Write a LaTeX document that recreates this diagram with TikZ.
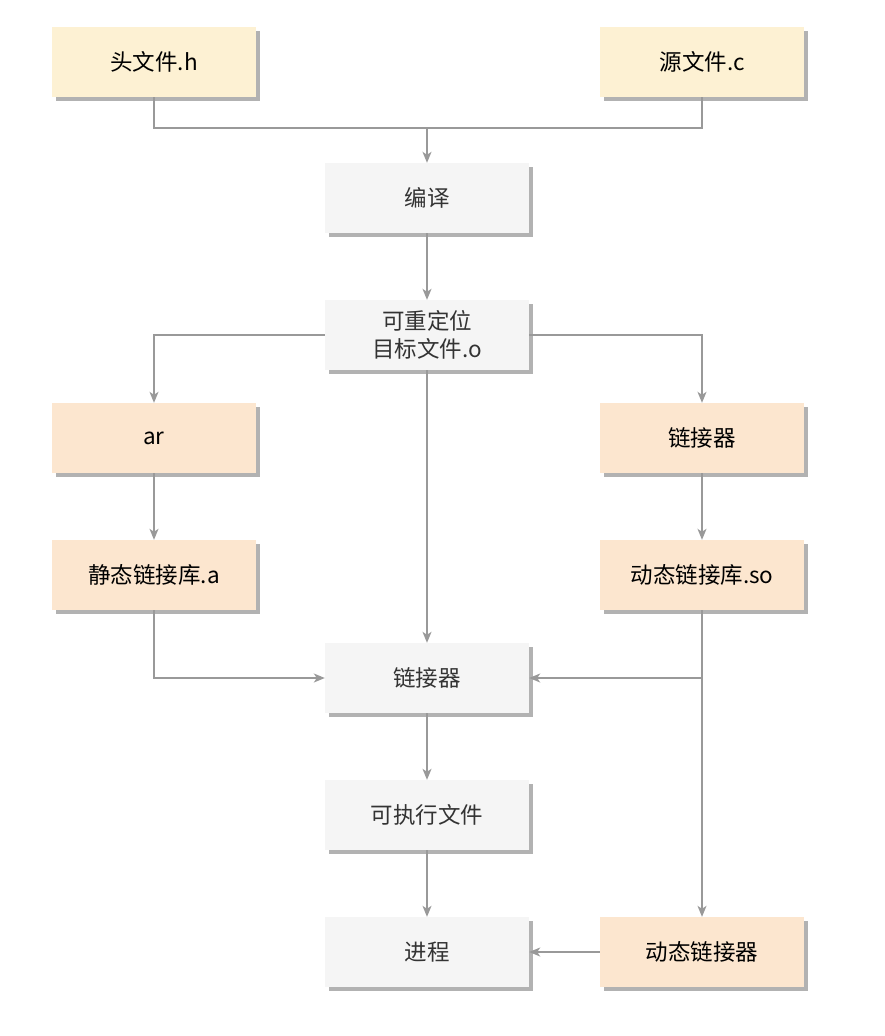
\documentclass[tikz,border=0pt]{standalone}
\usepackage{fontspec}
\setmainfont{Noto Sans CJK SC}
\usetikzlibrary{shadows,arrows.meta}
\definecolor{ylw}{HTML}{FDF1D3}
\definecolor{org}{HTML}{FCE6CF}
\definecolor{gry}{HTML}{F5F5F5}
\definecolor{ln}{HTML}{999999}
\definecolor{gtxt}{HTML}{333333}
\tikzset{
  x=1pt,y=-1pt,
  box/.style={minimum width=204pt,minimum height=70pt,inner sep=0pt,font=\fontsize{22.5pt}{28pt}\selectfont,align=center,
    drop shadow={shadow xshift=4pt,shadow yshift=-4pt,fill=black!30,opacity=1}},
  ybox/.style={box,fill=ylw,text=black},
  obox/.style={box,fill=org,text=black},
  gbox/.style={box,fill=gry,text=gtxt},
  conn/.style={draw=ln,line width=1.3pt},
  arr/.style={conn,-{Stealth[length=11pt,width=9pt,inset=3pt]}}
}
\begin{document}
\begin{tikzpicture}
\useasboundingbox[fill=white] (0,0) rectangle (884,1036);
\node[ybox] (h) at (154,62) {头文件.h};
\node[ybox] (c) at (702,62) {源文件.c};
\node[gbox] (comp) at (427,198) {编译};
\node[gbox] (obj) at (427,335) {可重定位\\目标文件.o};
\node[obox] (ar) at (154,438) {ar};
\node[obox] (lnkr) at (702,438) {链接器};
\node[obox] (sta) at (154,575) {静态链接库.a};
\node[obox] (dyn) at (702,575) {动态链接库.so};
\node[gbox] (lnk) at (427,678) {链接器};
\node[gbox] (exe) at (427,815) {可执行文件};
\node[gbox] (proc) at (427,952) {进程};
\node[obox] (dl) at (702,952) {动态链接器};
\coordinate (j1) at (427,128);
\coordinate (j2) at (702,678);
\draw[conn] (h.south) |- (j1) -| (c.south);
\draw[arr] (j1) -- (comp.north);
\draw[arr] (comp) -- (obj);
\draw[arr] (obj.west) -| (ar.north);
\draw[arr] (obj.east) -| (lnkr.north);
\draw[arr] (obj) -- (lnk);
\draw[arr] (ar) -- (sta);
\draw[arr] (lnkr) -- (dyn);
\draw[arr] (sta.south) |- (lnk.west);
\draw[arr] (dyn.south) -- (dl.north);
\draw[arr] (j2) -- (lnk.east);
\draw[arr] (lnk) -- (exe);
\draw[arr] (exe) -- (proc);
\draw[arr] (dl) -- (proc);
\end{tikzpicture}
\end{document}
